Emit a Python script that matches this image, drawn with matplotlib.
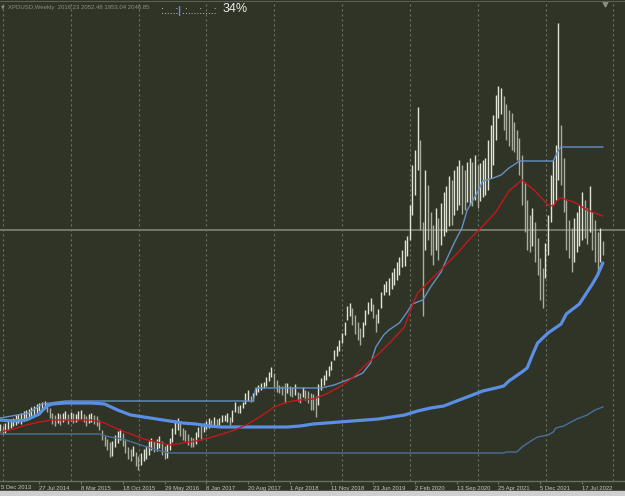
import pandas as pd
import numpy as np
import matplotlib.pyplot as plt
import matplotlib.dates as mdates
from matplotlib.patches import Rectangle

plt.rcParams['font.family'] = ['Liberation Sans', 'DejaVu Sans']

# --- bar data (two-week bars, XPDUSD) ---
bar_high = [
    772, 758, 779, 793, 807, 814, 835, 842, 849, 863,
    870, 877, 891, 898, 912, 919, 926, 933, 919, 884,
    849, 835, 849, 842, 849, 863, 842, 856, 849, 842,
    863, 870, 842, 828, 842, 849, 835, 828, 800,
    730, 688, 667, 646, 653, 695, 723, 737, 709, 660,
    611, 597, 618, 576, 548, 569, 597, 618, 653, 674,
    653, 667, 688, 653, 618, 632, 674, 744, 800, 814,
    779, 744, 730, 702, 681, 674, 716, 751, 765, 779,
    793, 814, 800, 821, 807, 814, 835, 835, 849, 821,
    870, 926, 898, 905, 926, 989, 1010, 968, 989, 1024,
    1045, 1059, 1066, 1101, 1136, 1171, 1129, 1080, 1045, 1038,
    1059, 1059, 1038, 1031, 1052, 996, 989, 1031, 1010, 1003,
    989, 982, 968, 1052, 1094, 1115, 1150, 1178, 1213,
    1290, 1318, 1360, 1409, 1486, 1598, 1619, 1584, 1535, 1486,
    1444, 1486, 1570, 1626, 1654, 1612, 1542, 1577, 1696, 1752,
    1773, 1794, 1836, 1864, 1906, 1941, 1990, 2060, 2088, 2305,
    2585, 2690, 2991, 2760, 2186, 2550, 2445, 2256, 2165, 2284,
    2214, 2319, 2396, 2438, 2508, 2480, 2550, 2578, 2620, 2585,
    2550, 2606, 2634, 2606, 2655, 2585, 2599, 2620, 2634, 2760,
    2865, 2935, 3075, 3138, 3124, 3068, 3012, 2970, 2949, 2886,
    2830, 2774, 2655, 2466, 2340, 2235, 2284, 2186, 2074, 1934,
    1864, 2039, 2235, 2515, 2620, 2725, 3579, 2865, 2634,
    2340, 2200, 2144, 2214, 2256, 2305, 2396, 2340, 2284, 2438,
    2256, 2200, 2116, 2144, 2052.48,
]
bar_low = [
    716, 702, 709, 730, 744, 758, 765, 779, 772, 793,
    800, 807, 821, 835, 849, 863, 870, 884, 856, 814,
    772, 758, 779, 765, 786, 800, 772, 793, 779, 786,
    800, 807, 786, 758, 779, 786, 772, 758, 730,
    660, 618, 590, 541, 548, 611, 639, 660, 618, 569,
    527, 513, 548, 478, 450, 485, 513, 527, 555, 590,
    576, 583, 604, 555, 527, 534, 590, 646, 702, 730,
    688, 660, 653, 625, 611, 611, 632, 681, 660, 716,
    737, 744, 751, 758, 751, 765, 786, 793, 786, 765,
    786, 856, 849, 849, 884, 912, 933, 926, 933, 975,
    996, 1010, 1024, 1038, 1073, 1101, 1031, 996, 989, 975,
    919, 989, 968, 961, 975, 933, 919, 961, 940, 919,
    870, 870, 821, 905, 1010, 1045, 1080, 1108, 1150,
    1220, 1248, 1283, 1339, 1395, 1500, 1528, 1465, 1402, 1360,
    1325, 1381, 1465, 1542, 1563, 1514, 1416, 1479, 1584, 1675,
    1696, 1675, 1717, 1745, 1780, 1815, 1871, 1878, 1948, 2060,
    2235, 2375, 2550, 2130, 1528, 1990, 2060, 1955, 1885, 1990,
    1920, 2025, 2088, 2116, 2158, 2165, 2235, 2270, 2305, 2242,
    2270, 2326, 2305, 2298, 2340, 2284, 2333, 2361, 2375, 2410,
    2494, 2585, 2760, 2914, 2942, 2830, 2760, 2718, 2690, 2676,
    2620, 2515, 2305, 2116, 1990, 1976, 2018, 1906, 1815, 1640,
    1584, 1794, 1955, 2186, 2305, 2340, 2480, 2445, 2256,
    1990, 1934, 1836, 1906, 1976, 2018, 2060, 2074, 2032, 2116,
    1990, 1906, 1836, 1906, 1953.04,
]

# --- indicator lines (bar index, price) ---
ma_red_idx = [0, 5, 10, 15, 20, 25, 30, 35, 40, 45, 50, 55, 60, 65, 70, 75, 80, 85, 90,
              95, 100, 105, 110, 115, 120, 125, 130, 135, 140, 145, 150, 155, 158, 160,
              165, 170, 175, 180, 185, 190, 195, 200, 205, 210, 212, 214, 215, 220, 225,
              230, 231]
ma_red_val = [716, 737, 765, 786, 800, 800, 800, 800, 779, 737, 702, 667, 646, 625, 639,
              653, 674, 702, 730, 772, 828, 891, 926, 940, 947, 982, 1031, 1094, 1185,
              1262, 1353, 1451, 1605, 1689, 1780, 1871, 1962, 2067, 2158, 2256, 2403,
              2480, 2403, 2305, 2298, 2347, 2354, 2326, 2270, 2235, 2228]

ma_thick_idx = [0, 5, 10, 15, 16, 18, 20, 25, 30, 35, 40, 45, 50, 55, 60, 65, 70, 75, 80,
                85, 90, 110, 115, 120, 125, 130, 135, 140, 145, 150, 155, 160, 165, 170,
                175, 180, 185, 190, 193, 195, 200, 202, 204, 206, 210, 215, 217, 220,
                222, 225, 227, 229, 231]
ma_thick_val = [800, 793, 800, 842, 863, 898, 912, 919, 919, 919, 912, 870, 835, 821, 807,
                793, 779, 772, 758, 751, 751, 751, 758, 772, 779, 786, 793, 800, 807, 821,
                835, 863, 884, 898, 933, 968, 1003, 1024, 1038, 1073, 1136, 1164, 1255,
                1339, 1409, 1472, 1542, 1584, 1612, 1696, 1752, 1815, 1899]

upper_idx = [0, 11, 16, 25, 97, 98, 123, 128, 131, 135, 139, 142, 144, 147, 149, 153, 156,
             158, 162, 165, 169, 171, 174, 177, 179, 183, 185, 189, 192, 195, 198, 199,
             212, 214, 215, 231]
upper_val = [814, 849, 912, 933, 933, 1024, 1024, 1045, 1066, 1094, 1129, 1199, 1311, 1395,
             1430, 1479, 1556, 1612, 1640, 1731, 1836, 1920, 2039, 2144, 2270, 2396, 2473,
             2494, 2515, 2564, 2599, 2613, 2613, 2690, 2711, 2711]

lower_idx = [0, 38, 42, 47, 54, 60, 65, 193, 194, 198, 200, 204, 206, 210, 212, 213, 216,
             221, 225, 228, 231]
lower_val = [702, 702, 681, 667, 625, 590, 569, 569, 576, 576, 611, 660, 681, 695, 716, 744,
             758, 807, 835, 870, 891]

level_price = 2130

tick_dates = ['2014-07-27', '2015-03-08', '2015-10-18', '2016-05-29', '2017-01-08',
              '2017-08-20', '2018-04-01', '2018-11-11', '2019-06-23', '2020-02-02',
              '2020-09-13', '2021-04-25', '2021-12-05', '2022-07-17']
tick_labels = ['27 Jul 2014', '8 Mar 2015', '18 Oct 2015', '29 May 2016', '8 Jan 2017',
               '20 Aug 2017', '1 Apr 2018', '11 Nov 2018', '23 Jun 2019', '2 Feb 2020',
               '13 Sep 2020', '25 Apr 2021', '5 Dec 2021', '17 Jul 2022']
first_label = '5 Dec 2013'

header = 'XPDUSD,Weekly  2016.23 2052.48 1953.04 2046.85'

# --- colours ---
BG = '#2f3426'
GRID = '#6b7164'
CANDLE_UP = '#e2e3d8'
CANDLE_DN = '#a9ad9f'
LABEL = '#c4c6b8'

start = pd.Timestamp('2013-12-29')
dates = pd.date_range(start, periods=len(bar_high), freq='14D')
hi = np.array(bar_high)
lo = np.array(bar_low)
mid = (hi + lo) / 2
up = np.r_[True, mid[1:] >= mid[:-1]]

fig = plt.figure(figsize=(6.25, 4.96), dpi=100)
fig.patch.set_facecolor(BG)
ax = fig.add_axes([0, 15 / 496, 1, 480 / 496])
ax.set_facecolor(BG)

x_left = start - pd.Timedelta(days=0.86)
x_right = start + pd.Timedelta(days=3353)
ax.set_xlim(x_left, x_right)
ax.set_ylim(373, 3733)

# dashed vertical grid, every 52 weeks
grid_start = pd.Timestamp('2014-01-13')
for k in range(10):
    ax.axvline(grid_start + pd.Timedelta(weeks=52 * k), color=GRID, lw=0.8,
               ls=(0, (2, 2.5)), zorder=1)

ax.axhline(level_price, color='#72786a', lw=1.4, zorder=1)

# candles as high-low bars
ax.vlines(dates[up], lo[up], hi[up], colors=CANDLE_UP, lw=1.0, zorder=2)
ax.vlines(dates[~up], lo[~up], hi[~up], colors=CANDLE_DN, lw=1.0, zorder=2)

ax.plot(dates[lower_idx], lower_val, color='#4b6f9c', lw=1.0, zorder=3)
ax.plot(dates[upper_idx], upper_val, color='#6590c6', lw=1.0, zorder=3)
ax.plot(dates[ma_thick_idx], ma_thick_val, color='#5b8fe6', lw=2.3, zorder=4,
        solid_capstyle='round')
ax.plot(dates[ma_red_idx], ma_red_val, color='#c3181c', lw=1.0, zorder=5)

# axes frame
for s in ['left', 'right']:
    ax.spines[s].set_visible(False)
ax.spines['top'].set_color('#596055')
ax.spines['bottom'].set_color('#6a7062')
ax.spines['bottom'].set_linewidth(1.0)
ax.set_yticks([])

ax.set_xticks(pd.to_datetime(tick_dates))
ax.set_xticklabels(tick_labels, ha='left')
ax.tick_params(axis='x', direction='out', length=2.5, width=0.8, color='#6a7062',
               labelcolor=LABEL, labelsize=4.2, pad=1.2)
ax.text(0.002, -0.0085, first_label, transform=ax.transAxes, fontsize=4.2,
        color=LABEL, ha='left', va='top')

# chart shift marker
ax.plot([605 / 625], [1 - 3 / 480], marker='v', ms=3.5, color='#8a9080',
        transform=ax.transAxes, clip_on=False)

# header texts
fig.text(1 / 625, 1 - 7 / 496, '\u25bc', fontsize=3.5, color='#8a9080', va='center',
         family='DejaVu Sans')
fig.text(8 / 625, 1 - 7 / 496, header, fontsize=4.3, color='#8a9080', va='center')
fig.text(161 / 625, 1 - 11 / 496, ':....:', fontsize=7.5, color='#e8e8e8', va='center')
fig.text(177.5 / 625, 1 - 11 / 496, '|', fontsize=8, color='#5b8fe6', va='center',
         fontweight='bold')
fig.text(182 / 625, 1 - 11 / 496, '.:....:....:', fontsize=7.5, color='#e8e8e8',
         va='center')
fig.text(223 / 625, 1 - 9 / 496, '34%', fontsize=9, color='#ececec', va='center')

fig.patches.append(Rectangle((0, 0), 1, 5 / 496, transform=fig.transFigure,
                             color='#cfcfcf', zorder=0))

plt.savefig('out.png', dpi=100, facecolor=fig.get_facecolor())
print("saved out.png")
